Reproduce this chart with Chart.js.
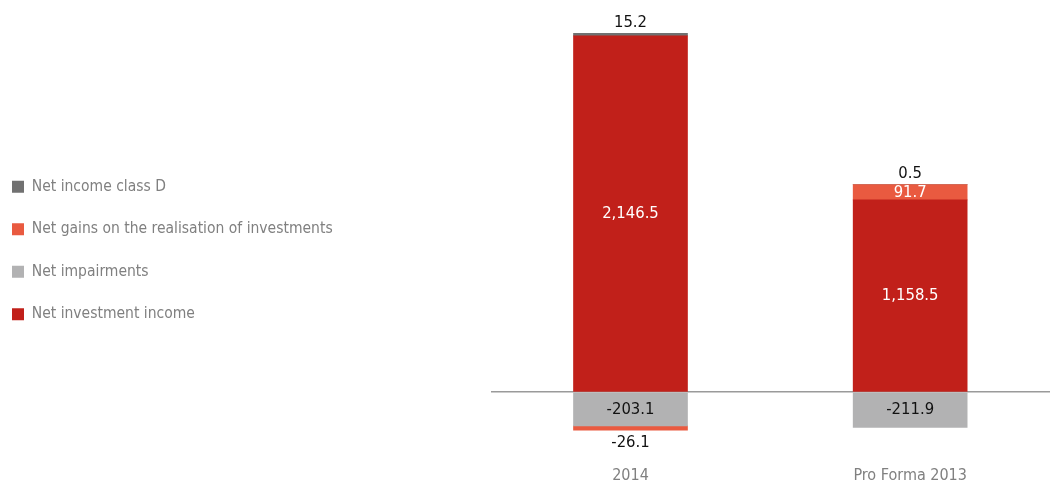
<!DOCTYPE html>
<html lang="en">
<head>
<meta charset="UTF-8">
<title>Net investment income</title>
<script src="https://cdn.jsdelivr.net/npm/chart.js"></script>
<style>
  html, body { margin: 0; padding: 0; background: #fff; }
  #wrap { width: 1050px; height: 484px; }
</style>
</head>
<body>
<div id="wrap"><canvas id="myChart" width="1050" height="484"></canvas></div>
<script>
    // values (EUR m)
    const categories = ['2014', 'Pro Forma 2013'];
    const netInvestmentIncome = [2146.5, 1158.5];
    const netImpairments = [-203.1, -211.9];
    const netGains = [-26.1, 91.7];
    const netIncomeClassD = [15.2, 0.5];

    const FONT = "'Liberation Sans Narrow', 'DejaVu Sans Condensed', Roboto, sans-serif";

    function fmt(v){
        return v.toLocaleString('en-US', {minimumFractionDigits: 1, maximumFractionDigits: 1});
    }

    // white / black values on or next to the bars
    const valueLabels = {
        id: 'valueLabels',
        afterDatasetsDraw(chart){
            const ctx = chart.ctx;
            ctx.save();
            ctx.font = '16.5px ' + FONT;
            ctx.textAlign = 'center';
            ctx.textBaseline = 'middle';
            chart.data.datasets.forEach(function(ds, di){
                const meta = chart.getDatasetMeta(di);
                meta.data.forEach(function(bar, i){
                    const v = ds.data[i];
                    const h = Math.abs(bar.base - bar.y);
                    let y, color;
                    if (h >= 12) {
                        y = (bar.y + bar.base) / 2;
                        color = ds.labelColor;
                    } else if (v >= 0) {
                        y = Math.min(bar.y, bar.base) - 11;
                        color = '#111';
                    } else {
                        y = Math.max(bar.y, bar.base) + 12;
                        color = '#111';
                    }
                    ctx.fillStyle = color;
                    ctx.fillText(fmt(v), bar.x, y);
                });
            });
            ctx.restore();
        }
    };

    const data = {
        labels: categories,
        datasets: [
            { label: 'Net investment income', data: netInvestmentIncome, backgroundColor: '#C1201A', labelColor: '#fff' },
            { label: 'Net impairments', data: netImpairments, backgroundColor: '#B2B2B3', labelColor: '#111' },
            { label: 'Net gains on the realisation of investments', data: netGains, backgroundColor: '#E95A40', labelColor: '#fff' },
            { label: 'Net income class D', data: netIncomeClassD, backgroundColor: '#717171', labelColor: '#111' }
        ]
    };

    const config = {
        type: 'bar',
        data: data,
        options: {
            responsive: false,
            animation: false,
            layout: { padding: { left: -15, top: 17, right: 0, bottom: 0 } },
            datasets: { bar: { barThickness: 114, borderWidth: 0 } },
            plugins: {
                tooltip: { enabled: false },
                legend: {
                    position: 'left',
                    align: 'center',
                    reverse: true,
                    maxWidth: 420,
                    labels: {
                        boxWidth: 12,
                        boxHeight: 12,
                        padding: 27,
                        color: '#808080',
                        font: { family: FONT, size: 15.5 }
                    }
                }
            },
            scales: {
                x: {
                    stacked: true,
                    afterFit: function(scale){ scale.height = 42; },
                    grid: { display: false, drawTicks: false },
                    border: { display: false },
                    ticks: { color: '#808080', padding: 24, font: { family: FONT, size: 16 } }
                },
                y: {
                    stacked: true,
                    min: -300,
                    max: 2260,
                    afterFit: function(scale){ scale.width = 148; },
                    ticks: { display: false, stepSize: 20 },
                    border: { display: false },
                    grid: {
                        drawTicks: false,
                        lineWidth: 1.5,
                        color: function(c){ return c.tick && c.tick.value === 0 ? '#9a9a9a' : 'rgba(0,0,0,0)'; }
                    }
                }
            }
        },
        plugins: [valueLabels]
    };

    const myChart = new Chart(document.getElementById('myChart'), config);
</script>
</body>
</html>
